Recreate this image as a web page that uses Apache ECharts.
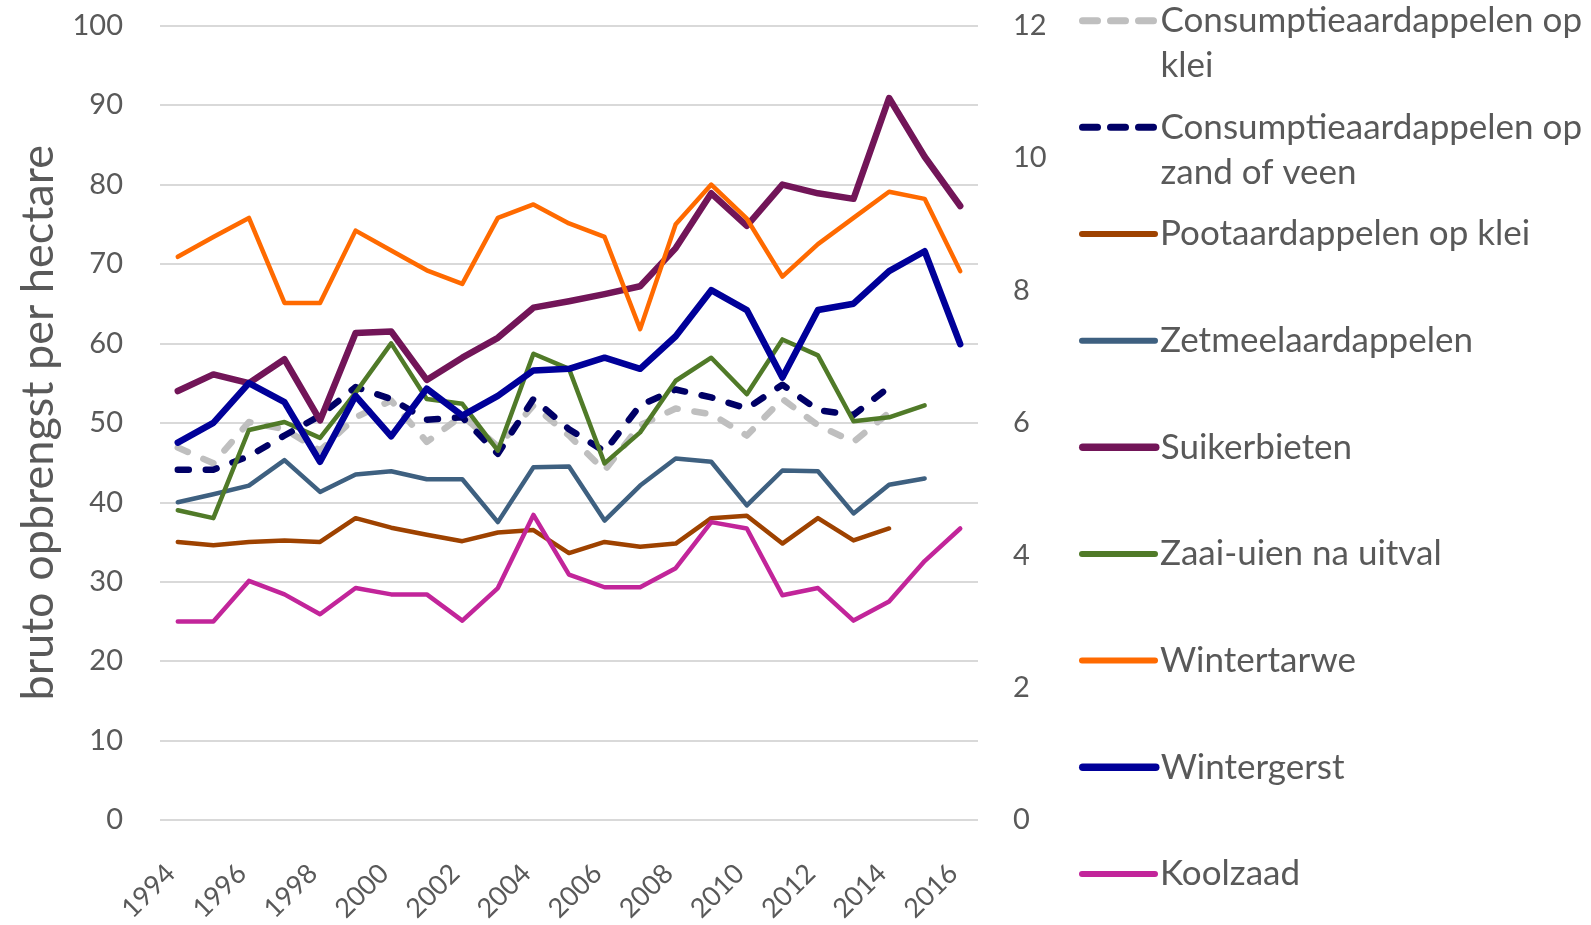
<!DOCTYPE html>
<html>
<head>
<meta charset="utf-8">
<script src="https://cdn.jsdelivr.net/npm/echarts@6/dist/echarts.min.js"></script>
<style>
html,body{margin:0;padding:0;background:#fff;}
#c{width:1591px;height:925px;}
</style>
</head>
<body>
<div id="c"></div>
<script>
const years = ['1994','1995','1996','1997','1998','1999','2000','2001','2002','2003','2004','2005','2006','2007','2008','2009','2010','2011','2012','2013','2014','2015','2016'];
const leftTicks = [0,10,20,30,40,50,60,70,80,90,100];
const rightTicks = [0,2,4,6,8,10,12];

const consKlei = [46.9,44.9,50.1,49.2,46.5,50.7,52.8,47.6,50.9,47.0,52.2,48.4,44.0,49.7,51.8,51.1,48.4,53.0,49.7,47.6,51.3,null,null];
const consZand = [44.1,44.1,45.8,48.4,50.9,54.5,53.0,50.4,50.7,46.1,53.0,49.2,46.4,52.2,54.2,53.2,51.8,54.8,51.6,51.0,54.5,null,null];
const pootKlei = [35.0,34.6,35.0,35.2,35.0,38.0,36.8,35.9,35.1,36.2,36.5,33.6,35.0,34.4,34.8,38.0,38.3,34.8,38.0,35.2,36.7,null,null];
const zetmeel = [40.0,41.0,42.1,45.3,41.3,43.5,43.9,42.9,42.9,37.5,44.4,44.5,37.7,42.1,45.5,45.1,39.6,44.0,43.9,38.6,42.2,43.0,null];
const suikerbieten = [54.0,56.1,55.0,58.0,50.3,61.3,61.5,55.4,58.2,60.7,64.5,65.3,66.2,67.2,72.0,78.9,74.8,80.0,78.9,78.2,90.9,83.5,77.3];
const zaaiuien = [39.0,38.0,49.1,50.1,48.1,53.8,60.0,53.0,52.4,46.5,58.7,56.8,44.9,48.8,55.3,58.2,53.6,60.5,58.5,50.2,50.7,52.2,null];
const wintertarwe = [70.9,73.4,75.8,65.1,65.1,74.2,71.7,69.2,67.5,75.8,77.5,75.1,73.4,61.8,75.0,80.0,75.7,68.4,72.5,75.8,79.1,78.2,69.1];
const wintergerst = [47.5,50.0,55.0,52.6,45.1,53.4,48.3,54.3,50.9,53.4,56.6,56.8,58.2,56.8,60.9,66.7,64.2,55.7,64.2,65.0,69.1,71.6,59.9];
const koolzaad = [25.0,25.0,30.1,28.4,25.9,29.2,28.4,28.4,25.1,29.2,38.4,30.9,29.3,29.3,31.7,37.5,36.7,28.3,29.2,25.1,27.5,32.6,36.7];

const seriesNames = ['Consumptieaardappelen op klei','Consumptieaardappelen op zand of veen','Pootaardappelen op klei','Zetmeelaardappelen','Suikerbieten','Zaai-uien na uitval','Wintertarwe','Wintergerst','Koolzaad'];
const seriesData = [consKlei, consZand, pootKlei, zetmeel, suikerbieten, zaaiuien, wintertarwe, wintergerst, koolzaad];
const seriesColors = ['#BFBFBF','#000066','#9E4200','#3E6080','#721558','#507A28','#FF6A00','#000099','#C2259A'];
const seriesWidths = [6.5,6.5,4.5,4.5,6.5,4.5,4.5,6.5,4.5];
const legendWidths = [7,7,6,6,7.5,6,6,7.5,6];
const seriesDashed = [true,true,false,false,false,false,false,false,false];

const FONT = 'Lato';
const TXT = '#595959';
const LH = 45;
const FS = 35;

const series = seriesNames.map((n,i)=>({
  name: n, type: 'line', data: seriesData[i], yAxisIndex: 0,
  symbol: 'none', showSymbol: false, connectNulls: false,
  lineStyle: {color: seriesColors[i], width: seriesWidths[i], type: seriesDashed[i] ? [11,17] : 'solid', cap: 'round', join: 'round'},
  itemStyle: {color: seriesColors[i]},
  emphasis: {disabled: true}, animation: false
}));

function wrapName(n){
  return /^Consumptieaardappelen op /.test(n) ? '\u00a0\n' + n.replace(/^(Consumptieaardappelen op) /, '$1\n') : n;
}

const legendCenters0 = 20.7, legendStep = 106.65;
const legends = seriesNames.map((n,i)=>{
  const three = wrapName(n).split('\n').length === 3;
  const c = legendCenters0 + legendStep*i;
  return {
    data: [n], orient: 'vertical', left: 1079, top: three ? c - 1.5*LH : c - LH/2,
    padding: 0, itemGap: 0, itemWidth: 73, itemHeight: 14,
    formatter: wrapName, selectedMode: false,
    textStyle: {fontFamily: FONT, fontSize: FS, color: TXT, lineHeight: LH},
    itemStyle: {opacity: 0},
    lineStyle: {width: legendWidths[i], type: seriesDashed[i] ? [15,13] : 'solid', cap: 'round', color: seriesColors[i]}
  };
});

const chart = echarts.init(document.getElementById('c'), null, {renderer: 'canvas'});
chart.setOption({
  animation: false,
  backgroundColor: '#fff',
  grid: {left: 160, right: 613, top: 25.7, bottom: 102.5, containLabel: false},
  legend: legends,
  xAxis: {
    type: 'category', data: years, boundaryGap: true,
    axisLine: {show: false}, axisTick: {show: false},
    axisLabel: {interval: 1, rotate: 45, margin: 42, padding: [0, 10, 0, 0], fontFamily: FONT, fontSize: 27, color: TXT}
  },
  yAxis: [
    {type: 'value', min: leftTicks[0], max: leftTicks[leftTicks.length-1], interval: 10,
     name: 'bruto opbrengst per hectare', nameLocation: 'middle', nameGap: 99, nameRotate: 90,
     nameTextStyle: {fontFamily: FONT, fontSize: 45, color: TXT},
     axisLine: {show: false}, axisTick: {show: false},
     axisLabel: {margin: 37, fontFamily: FONT, fontSize: 29, color: TXT},
     splitLine: {show: true, lineStyle: {color: '#D9D9D9', width: 2}}},
    {type: 'value', min: rightTicks[0], max: rightTicks[rightTicks.length-1], interval: 2, position: 'right',
     axisLine: {show: false}, axisTick: {show: false},
     axisLabel: {margin: 35, fontFamily: FONT, fontSize: 29, color: TXT},
     splitLine: {show: false}}
  ],
  series: series
});
</script>
</body>
</html>
